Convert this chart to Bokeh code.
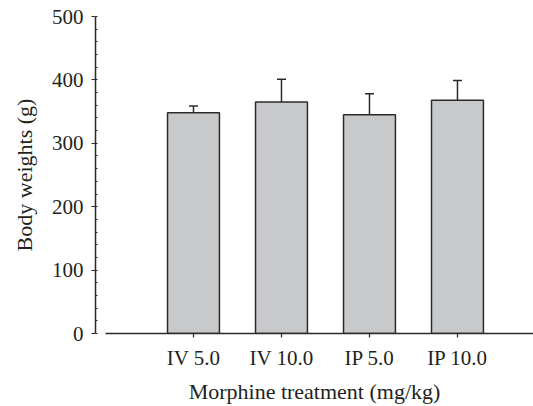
from bokeh.plotting import figure
from bokeh.models import ColumnDataSource, Whisker, TeeHead, FixedTicker, Range1d
from bokeh.embed import file_html
from bokeh.resources import INLINE

categories = ["IV 5.0", "IV 10.0", "IP 5.0", "IP 10.0"]
means = [348, 365, 345, 368]
errors = [11, 36, 33, 31]
y_ticks = [0, 100, 200, 300, 400, 500]

xs = list(range(1, len(categories) + 1))
upper = [m + e for m, e in zip(means, errors)]
src = ColumnDataSource(dict(x=xs, top=means, upper=upper))

FONT = "Liberation Serif"
TXT = "#231f20"
LINE = "#2b2b2b"

p = figure(width=533, height=406, output_backend="svg", toolbar_location=None,
           x_range=Range1d(-0.1136, 4.864), y_range=Range1d(0, 500),
           min_border_left=95, min_border_right=0, min_border_top=16, min_border_bottom=72)
p.outline_line_color = None
p.xgrid.grid_line_color = None
p.ygrid.grid_line_color = None
p.background_fill_color = "white"
p.border_fill_color = "white"

p.vbar(x="x", top="top", bottom=0, width=0.59, source=src,
       fill_color="#c8c9cb", line_color=LINE, line_width=1.5)

w = Whisker(base="x", upper="upper", lower="top", source=src, dimension="height",
            line_color=LINE, line_width=1.5,
            upper_head=TeeHead(size=9, line_color=LINE, line_width=1.5), lower_head=None)
p.add_layout(w)

# x axis
xa = p.xaxis[0]
xa.ticker = FixedTicker(ticks=xs)
xa.major_label_overrides = {x: c for x, c in zip(xs, categories)}
xa.bounds = (0, 4.864)
xa.axis_line_color = LINE
xa.axis_line_width = 1.5
xa.major_tick_line_color = LINE
xa.major_tick_line_width = 1.2
xa.major_tick_in = 0
xa.major_tick_out = 4
xa.minor_tick_line_color = None
xa.major_label_standoff = 8
xa.major_label_text_font = FONT
xa.major_label_text_font_size = "21px"
xa.major_label_text_color = TXT
xa.axis_label = "Morphine treatment (mg/kg)"
xa.axis_label_text_font = FONT
xa.axis_label_text_font_size = "22px"
xa.axis_label_text_font_style = "normal"
xa.axis_label_text_color = TXT
xa.axis_label_standoff = 6

# y axis
ya = p.yaxis[0]
ya.ticker = FixedTicker(ticks=y_ticks, minor_ticks=list(range(0, 501, 20)))
ya.axis_line_color = LINE
ya.axis_line_width = 1.5
ya.major_tick_line_color = LINE
ya.major_tick_line_width = 1.2
ya.major_tick_in = 0
ya.major_tick_out = 4
ya.minor_tick_line_color = LINE
ya.minor_tick_line_width = 1
ya.minor_tick_in = 2
ya.minor_tick_out = 0
ya.major_label_standoff = 8
ya.major_label_text_font = FONT
ya.major_label_text_font_size = "21px"
ya.major_label_text_color = TXT
ya.axis_label = "Body weights (g)"
ya.axis_label_text_font = FONT
ya.axis_label_text_font_size = "22px"
ya.axis_label_text_font_style = "normal"
ya.axis_label_text_color = TXT
ya.axis_label_standoff = 12

open("out.html", "w").write(file_html(p, INLINE))
